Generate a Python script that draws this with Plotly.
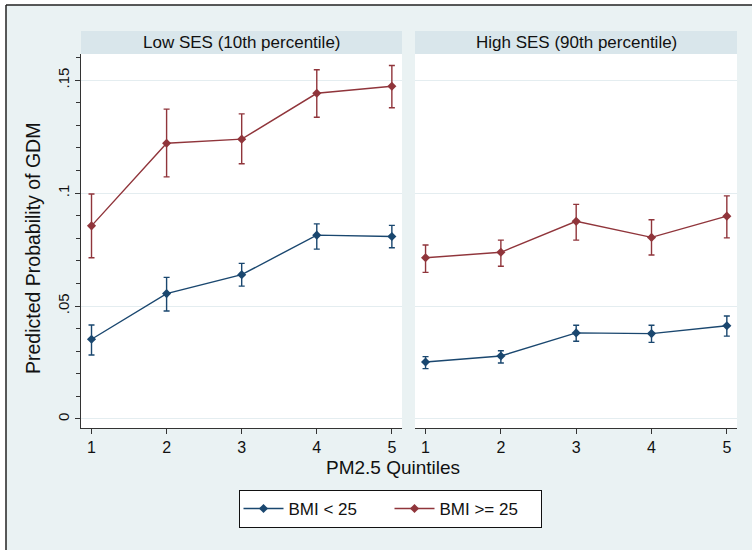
import plotly.graph_objects as go

# PM2.5 quintile categories
quintiles = [1, 2, 3, 4, 5]
tick_vals_y = [0, 0.05, 0.1, 0.15]
tick_text_y = ["0", ".05", ".1", ".15"]

panel_titles = ["Low SES (10th percentile)", "High SES (90th percentile)"]
series_names = ["BMI < 25", "BMI >= 25"]

# Low SES panel: predicted probability and 95% CI bounds
low_bmi_lt25 = [0.0353, 0.0555, 0.0639, 0.0814, 0.0808]
low_bmi_lt25_lo = [0.0283, 0.0478, 0.0588, 0.0752, 0.0758]
low_bmi_lt25_hi = [0.0416, 0.0627, 0.0689, 0.0864, 0.0857]
low_bmi_ge25 = [0.0855, 0.1221, 0.1239, 0.1442, 0.1473]
low_bmi_ge25_lo = [0.0714, 0.1072, 0.1130, 0.1336, 0.1378]
low_bmi_ge25_hi = [0.0996, 0.1372, 0.1351, 0.1546, 0.1565]

# High SES panel
high_bmi_lt25 = [0.0252, 0.0279, 0.0381, 0.0378, 0.0413]
high_bmi_lt25_lo = [0.0223, 0.0248, 0.0344, 0.0339, 0.0367]
high_bmi_lt25_hi = [0.0276, 0.0302, 0.0415, 0.0415, 0.0456]
high_bmi_ge25 = [0.0714, 0.0738, 0.0875, 0.0804, 0.0898]
high_bmi_ge25_lo = [0.0649, 0.0676, 0.0792, 0.0726, 0.0802]
high_bmi_ge25_hi = [0.0770, 0.0792, 0.0950, 0.0882, 0.0988]

W, H = 752, 550
NAVY = "#1A476F"
MAROON = "#90353B"
BG = "#EAF2F3"
STRIP = "#D9E6EB"
GRID = "#E4EDF0"
AXIS = "#333333"
FONT = "Liberation Sans, Arial, sans-serif"


def px_x(p):
    return p / W


def px_y(p):
    return 1 - p / H


def series(x, y, lo, hi, name, color, xa, ya, show):
    return go.Scatter(
        x=x, y=y, name=name, xaxis=xa, yaxis=ya,
        mode="lines+markers", legendgroup=name, showlegend=show,
        line=dict(color=color, width=1.4),
        marker=dict(color=color, size=7, symbol="diamond"),
        error_y=dict(
            type="data", symmetric=False,
            array=[h - v for h, v in zip(hi, y)],
            arrayminus=[v - l for v, l in zip(y, lo)],
            color=color, thickness=1.4, width=3,
        ),
    )


fig = go.Figure()
fig.add_trace(series(quintiles, low_bmi_lt25, low_bmi_lt25_lo, low_bmi_lt25_hi,
                     series_names[0], NAVY, "x", "y", True))
fig.add_trace(series(quintiles, low_bmi_ge25, low_bmi_ge25_lo, low_bmi_ge25_hi,
                     series_names[1], MAROON, "x", "y", True))
fig.add_trace(series(quintiles, high_bmi_lt25, high_bmi_lt25_lo, high_bmi_lt25_hi,
                     series_names[0], NAVY, "x2", "y2", False))
fig.add_trace(series(quintiles, high_bmi_ge25, high_bmi_ge25_lo, high_bmi_ge25_hi,
                     series_names[1], MAROON, "x2", "y2", False))

yrange = [-0.004, 0.1616]
xrange = [0.86, 5.135]
ydom = [px_y(428), px_y(54)]

xcommon = dict(
    range=xrange, tickvals=quintiles, ticks="outside", ticklen=5,
    tickcolor=AXIS, showline=True, linecolor=AXIS, linewidth=1,
    showgrid=False, zeroline=False,
    tickfont=dict(family=FONT, size=16, color="#111111"),
)

fig.update_layout(
    width=W, height=H,
    margin=dict(l=0, r=0, t=0, b=0),
    paper_bgcolor=BG, plot_bgcolor="white",
    font=dict(family=FONT, color="#111111"),
    xaxis=dict(domain=[px_x(81), px_x(402)], anchor="y", **xcommon),
    xaxis2=dict(domain=[px_x(415), px_x(737)], anchor="y2", **xcommon),
    yaxis=dict(
        domain=ydom, range=yrange, anchor="x",
        tickmode="array", tickvals=tick_vals_y, ticktext=tick_text_y,
        tickangle=-90, ticks="outside", ticklen=5, tickcolor=AXIS,
        minor=dict(dtick=0.01, tick0=0, ticks="outside", ticklen=4,
                   tickcolor=AXIS, showgrid=False),
        showline=True, linecolor=AXIS, linewidth=1,
        showgrid=True, gridcolor=GRID, gridwidth=1, zeroline=False,
        tickfont=dict(family=FONT, size=15, color="#111111"),
    ),
    yaxis2=dict(
        domain=ydom, range=yrange, anchor="x2", matches="y",
        tickvals=tick_vals_y, showticklabels=False, ticks="",
        showline=False, showgrid=True, gridcolor=GRID, gridwidth=1,
        zeroline=False,
    ),
    showlegend=True,
    legend=dict(
        orientation="h", x=px_x(390), xanchor="center",
        y=px_y(490), yanchor="top",
        bgcolor="white", bordercolor="#111111", borderwidth=1,
        font=dict(family=FONT, size=17, color="#111111"),
        itemwidth=40, entrywidth=96,
        tracegroupgap=0,
    ),
)

shapes = []
# facet header strips
for x0, x1 in [(81, 402), (415, 737)]:
    shapes.append(dict(type="rect", xref="paper", yref="paper",
                       x0=px_x(x0), x1=px_x(x1), y0=px_y(54), y1=px_y(31),
                       fillcolor=STRIP, line=dict(width=0), layer="below"))
# outer frame: white margin and a dark rule on the top and left edges
shapes.append(dict(type="rect", xref="paper", yref="paper",
                   x0=0, x1=px_x(6), y0=0, y1=1,
                   fillcolor="white", line=dict(width=0)))
shapes.append(dict(type="rect", xref="paper", yref="paper",
                   x0=0, x1=1, y0=px_y(5), y1=1,
                   fillcolor="white", line=dict(width=0)))
shapes.append(dict(type="line", xref="paper", yref="paper",
                   x0=px_x(6), x1=px_x(6), y0=0, y1=px_y(5),
                   line=dict(color="#222222", width=1.5)))
shapes.append(dict(type="line", xref="paper", yref="paper",
                   x0=px_x(6), x1=1, y0=px_y(5), y1=px_y(5),
                   line=dict(color="#222222", width=1.5)))
fig.update_layout(shapes=shapes)

annotations = []
for title, (x0, x1) in zip(panel_titles, [(81, 402), (415, 737)]):
    annotations.append(dict(text=title, xref="paper", yref="paper",
                            x=px_x((x0 + x1) / 2), y=px_y(42.5),
                            xanchor="center", yanchor="middle", showarrow=False,
                            font=dict(family=FONT, size=17, color="#111111")))
annotations.append(dict(text="PM2.5 Quintiles", xref="paper", yref="paper",
                        x=px_x(393), y=px_y(467), xanchor="center", yanchor="middle",
                        showarrow=False,
                        font=dict(family=FONT, size=19, color="#111111")))
annotations.append(dict(text="Predicted Probability of GDM", xref="paper", yref="paper",
                        x=px_x(33), y=px_y(249), xanchor="center", yanchor="middle",
                        textangle=-90, showarrow=False,
                        font=dict(family=FONT, size=19.5, color="#111111")))
fig.update_layout(annotations=annotations)

fig.write_html("out.html")
